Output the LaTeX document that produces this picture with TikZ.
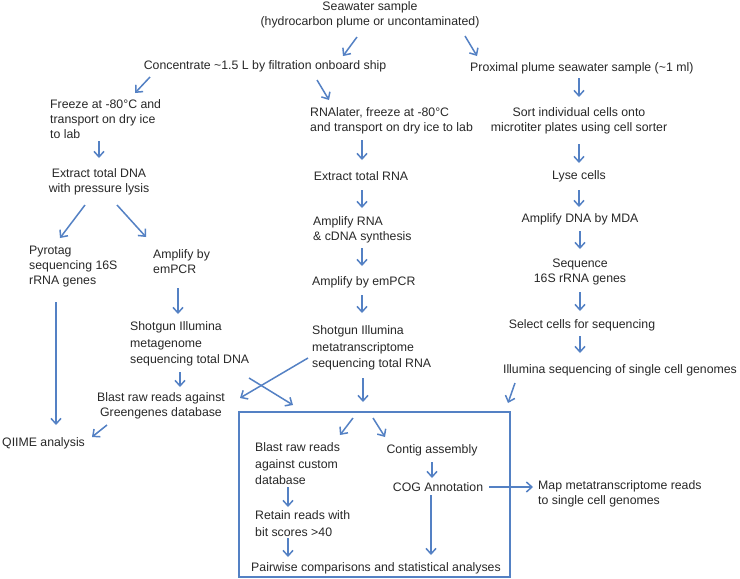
\documentclass[tikz,border=0pt]{standalone}
\usepackage{fontspec}
\setmainfont{Liberation Sans}
\usetikzlibrary{arrows.meta,calc}
\definecolor{arrblue}{RGB}{84,129,196}
\definecolor{txt}{RGB}{40,40,40}
\begin{document}
\begin{tikzpicture}[x=1pt,y=-1pt,
  lbl/.style={inner sep=0pt,text=txt,font=\fontsize{12.3}{15}\selectfont},
  lblc/.style={lbl,align=center},
  lbll/.style={lbl,align=left,anchor=west},
  lbllw/.style={lbll,font=\fontsize{12.3}{16.5}\selectfont},
  arr/.style={draw=arrblue,line width=1.5pt,-{Straight Barb[length=5.5pt,width=10pt]}},
  frame/.style={draw=arrblue,line width=1.6pt,minimum width=271pt,minimum height=165pt,inner sep=0pt}
]
\useasboundingbox[fill=white] (0,0) rectangle (740,579);

% nodes
\node[lblc] (seaw) at (370,15) {Seawater sample\\(hydrocarbon plume or uncontaminated)};
\node[lblc] (conc) at (265,66) {Concentrate \textasciitilde1.5 L by filtration onboard ship};
\node[lbll] (prox) at (470,68) {Proximal plume seawater sample (\textasciitilde1 ml)};
\node[lbll] (freeze) at (50,119) {Freeze at -80°C and\\transport on dry ice\\to lab};
\node[lbll] (rnal) at (310,121) {RNAlater, freeze at -80°C\\and transport on dry ice to lab};
\node[lblc] (sort) at (579,121) {Sort individual cells onto\\microtiter plates using cell sorter};
\node[lblc] (extdna) at (99,182) {Extract total DNA\\with pressure lysis};
\node[lblc] (extrna) at (361,176) {Extract total RNA};
\node[lblc] (lyse) at (579,176) {Lyse cells};
\node[lbll] (pyro) at (29,267) {Pyrotag\\sequencing 16S\\rRNA genes};
\node[lbll] (ampby) at (153,262) {Amplify by\\emPCR};
\node[lbll] (amprna) at (313,230) {Amplify RNA\\\& cDNA synthesis};
\node[lblc] (mda) at (580,219) {Amplify DNA by MDA};
\node[lbll] (empcr) at (312,282) {Amplify by emPCR};
\node[lblc] (seq16) at (580,272) {Sequence\\16S rRNA genes};
\node[lbllw] (shotdna) at (130,344) {Shotgun Illumina\\metagenome\\sequencing total DNA};
\node[lbllw] (shotrna) at (312,348) {Shotgun Illumina\\metatranscriptome\\sequencing total RNA};
\node[lblc] (select) at (582,325) {Select cells for sequencing};
\node[lblc] (illum) at (620,370) {Illumina sequencing of single cell genomes};
\node[lblc] (blastg) at (161,406) {Blast raw reads against\\Greengenes database};
\node[lbll] (qiime) at (2,443) {QIIME analysis};
\node[frame] (box) at (374.5,494.5) {};
\node[lbllw] (blastc) at (255,464) {Blast raw reads\\against custom\\database};
\node[lbllw] (retain) at (255,523.5) {Retain reads with\\bit scores >40};
\node[lblc] (pair) at (376,568) {Pairwise comparisons and statistical analyses};
\node[lblc] (contig) at (432,450) {Contig assembly};
\node[lblc] (cog) at (438,487) {COG Annotation};
\node[lbll] (map) at (538,494) {Map metatranscriptome reads\\to single cell genomes};

% connectors
\draw[arr] ($(seaw)+(-13,22)$) -- ($(conc)+(78,-10)$);
\draw[arr] ($(seaw)+(95,21)$) -- ($(prox.west)+(7,-12)$);
\draw[arr] ($(conc)+(-115,11)$) -- ($(freeze.west)+(85,-26)$);
\draw[arr] ($(conc)+(52,14)$) -- ($(rnal.west)+(19,-21)$);
\draw[arr] ($(prox.west)+(109,10)$) -- ($(sort)+(0,-24)$);
\draw[arr] ($(freeze.west)+(49,22)$) -- ($(extdna)+(0,-24)$);
\draw[arr] ($(rnal.west)+(52,19)$) -- ($(extrna)+(1,-16)$);
\draw[arr] ($(sort)+(0,23)$) -- ($(lyse)+(0,-13)$);
\draw[arr] ($(extdna)+(-14,23)$) -- ($(pyro.west)+(31,-29)$);
\draw[arr] ($(extdna)+(18,23)$) -- ($(ampby.west)+(-7,-25)$);
\draw[arr] ($(extrna)+(1,14)$) -- ($(amprna.west)+(49,-22)$);
\draw[arr] ($(lyse)+(0,14)$) -- ($(mda)+(-1,-12)$);
\draw[arr] ($(amprna.west)+(49,18)$) -- ($(empcr.west)+(50,-16)$);
\draw[arr] ($(mda)+(0,12)$) -- ($(seq16)+(0,-23)$);
\draw[arr] ($(ampby.west)+(25,26)$) -- ($(shotdna.west)+(48,-30)$);
\draw[arr] ($(empcr.west)+(50,13)$) -- ($(shotrna.west)+(50,-35)$);
\draw[arr] ($(seq16)+(0,20)$) -- ($(select)+(-2,-14)$);
\draw[arr] ($(select)+(-2,11)$) -- ($(illum)+(-40,-17)$);
\draw[arr] ($(pyro.west)+(27,35)$) -- ($(qiime.west)+(54,-18)$);
\draw[arr] ($(shotdna.west)+(50,28)$) -- ($(blastg)+(19,-19)$);
\draw[arr] ($(shotdna.west)+(119,34)$) -- ($(box)+(-81.5,-89.5)$);
\draw[arr] ($(shotrna.west)+(-4,10)$) -- ($(blastg)+(79,-8)$);
\draw[arr] ($(shotrna.west)+(51,30)$) -- ($(box)+(-11.5,-92.5)$);
\draw[arr] ($(illum)+(-105,13)$) -- ($(box)+(133.5,-91.5)$);
\draw[arr] ($(blastg)+(-54,19)$) -- ($(qiime.west)+(90,-6)$);
\draw[arr] ($(box)+(-21.5,-76.5)$) -- ($(blastc.west)+(85,-29)$);
\draw[arr] ($(box)+(-1.5,-76.5)$) -- ($(contig)+(-47,-13)$);
\draw[arr] ($(blastc.west)+(33,23)$) -- ($(retain.west)+(33,-16.5)$);
\draw[arr] ($(retain.west)+(33,14.5)$) -- ($(pair)+(-88,-11)$);
\draw[arr] ($(contig)+(0,12)$) -- ($(cog)+(-6,-9)$);
\draw[arr] ($(cog)+(51,0)$) -- ($(map.west)+(-5,-7)$);
\draw[arr] ($(cog)+(-7,8)$) -- ($(pair)+(55,-13)$);
\end{tikzpicture}
\end{document}
